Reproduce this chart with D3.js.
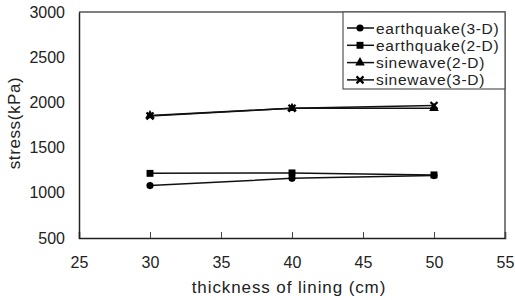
<!DOCTYPE html>
<html>
<head>
<meta charset="utf-8">
<script src="https://cdn.jsdelivr.net/npm/d3@7"></script>
<style>
  body { margin: 0; background: #fff; }
  text { font-family: "Liberation Sans", Arial, sans-serif; fill: #222; }
</style>
</head>
<body>
<div id="chart"></div>
<script>
var thickness = [30, 40, 50];
var seriesNames = ["earthquake(3-D)", "earthquake(2-D)", "sinewave(2-D)", "sinewave(3-D)"];
var eq3d = [1080, 1160, 1190];
var eq2d = [1215, 1220, 1198];
var sine2d = [1855, 1935, 1935];
var sine3d = [1850, 1935, 1965];
var symbols = ["circle", "square", "triangle", "cross"];
var xTicks = [25, 30, 35, 40, 45, 50, 55];
var yTicks = [500, 1000, 1500, 2000, 2500, 3000];

var allSeries = [eq3d, eq2d, sine2d, sine3d];

var margin = {top: 12, right: 10, bottom: 62, left: 79},
    width = 515 - margin.left - margin.right,
    height = 300 - margin.top - margin.bottom;

var svg = d3.select("#chart")
  .append("svg")
    .attr("width", 515)
    .attr("height", 300)
  .append("g")
    .attr("transform", "translate(" + margin.left + "," + margin.top + ")");

var x = d3.scaleLinear().domain([25, 55]).range([0, width]);
var y = d3.scaleLinear().domain([500, 3000]).range([height, 0]);

// top / right frame
svg.append("path")
  .attr("d", "M0,0H" + width + "V" + height)
  .attr("fill", "none")
  .attr("stroke", "#555")
  .attr("stroke-width", 1.5);

var xAxis = svg.append("g")
  .attr("transform", "translate(0," + height + ")")
  .call(d3.axisBottom(x).tickValues(xTicks).tickSize(-6).tickPadding(19));
xAxis.select(".domain").attr("stroke", "#222").attr("stroke-width", 1.5);
xAxis.selectAll(".tick line").attr("stroke", "#444");
xAxis.selectAll("text").style("font-size", "16px").attr("fill", "#222");

var yAxis = svg.append("g")
  .call(d3.axisLeft(y).tickValues(yTicks).tickFormat(d3.format("d")).tickSize(0).tickPadding(14));
yAxis.select(".domain").attr("stroke", "#222").attr("stroke-width", 1.5);
yAxis.selectAll("text").style("font-size", "16px").attr("fill", "#222");

svg.append("text")
  .attr("transform", "rotate(-90)")
  .attr("x", -height / 2 + 2)
  .attr("y", -margin.left + 20)
  .attr("text-anchor", "middle")
  .style("font-size", "17px")
  .style("letter-spacing", "0.6px")
  .text("stress(kPa)");

svg.append("text")
  .attr("x", (x(25) + x(55)) / 2 - 3)
  .attr("y", height + 55)
  .attr("text-anchor", "middle")
  .style("font-size", "17px")
  .style("letter-spacing", "0.9px")
  .text("thickness of lining (cm)");

var line = d3.line()
  .x(function(d, i) { return x(thickness[i]); })
  .y(function(d) { return y(d); });

function drawMarker(g, type) {
  if (type === "cross") {
    g.append("path")
      .attr("d", "M-3.5,-3.5L3.5,3.5M-3.5,3.5L3.5,-3.5")
      .attr("stroke", "#000").attr("stroke-width", 2.2);
  } else {
    var sym = {circle: d3.symbolCircle, square: d3.symbolSquare, triangle: d3.symbolTriangle}[type];
    var size = {circle: 40, square: 48, triangle: 40}[type];
    g.append("path")
      .attr("d", d3.symbol().type(sym).size(size)())
      .attr("fill", "#000");
  }
}

allSeries.forEach(function(vals, k) {
  svg.append("path")
    .datum(vals)
    .attr("fill", "none")
    .attr("stroke", "#111")
    .attr("stroke-width", 1.5)
    .attr("d", line);
  vals.forEach(function(v, i) {
    var g = svg.append("g")
      .attr("transform", "translate(" + x(thickness[i]) + "," + y(v) + ")");
    drawMarker(g, symbols[k]);
  });
});

// legend
var legend = svg.append("g")
  .attr("transform", "translate(" + (343 - margin.left) + ",0)");
legend.append("rect")
  .attr("width", width - (343 - margin.left))
  .attr("height", 77)
  .attr("fill", "#fff")
  .attr("stroke", "#555")
  .attr("stroke-width", 1.2);

seriesNames.forEach(function(name, k) {
  var ly = 16 + k * 17.3;
  legend.append("line")
    .attr("x1", 4).attr("x2", 31)
    .attr("y1", ly).attr("y2", ly)
    .attr("stroke", "#111").attr("stroke-width", 1.5);
  var g = legend.append("g").attr("transform", "translate(17," + ly + ")");
  drawMarker(g, symbols[k]);
  legend.append("text")
    .attr("x", 33)
    .attr("y", ly)
    .attr("dy", "0.36em")
    .style("font-size", "15.5px")
    .style("letter-spacing", "0.7px")
    .text(name);
});
</script>
</body>
</html>
